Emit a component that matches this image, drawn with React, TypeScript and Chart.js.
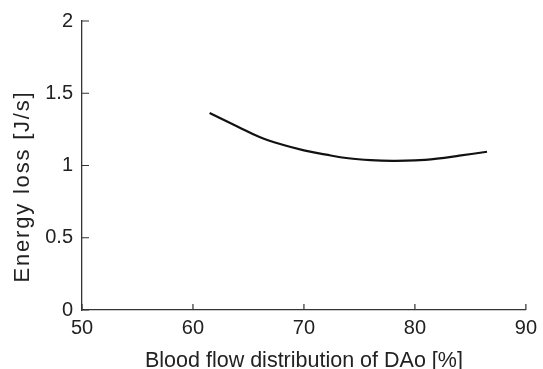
import React, { useEffect, useRef } from "react";
import { Chart, registerables } from "chart.js";

Chart.register(...registerables);

const flowPct = [61.5, 64, 66, 68, 70, 72, 74, 76, 78, 80, 82, 84, 86.5];
const energyLoss = [1.363, 1.27, 1.197, 1.145, 1.105, 1.075, 1.05, 1.037, 1.032, 1.035, 1.048, 1.068, 1.095];
const xTicks = [50, 60, 70, 80, 90];
const yTicks = [0, 0.5, 1, 1.5, 2];
const xTitle = "Blood flow distribution of DAo [%]";
const yTitle = "Energy loss [J/s]";

const FAMILY = "'Liberation Sans', Arial, sans-serif";

const decorations = {
  id: "decorations",
  afterDraw(chart: any) {
    const { ctx, scales, chartArea } = chart;
    ctx.save();
    ctx.strokeStyle = "#333";
    ctx.lineWidth = 1.2;
    ctx.beginPath();
    xTicks.forEach((v) => {
      const px = scales.x.getPixelForValue(v);
      ctx.moveTo(px, chartArea.bottom);
      ctx.lineTo(px, chartArea.bottom - 6);
    });
    yTicks.forEach((v) => {
      const py = scales.y.getPixelForValue(v);
      ctx.moveTo(chartArea.left, py);
      ctx.lineTo(chartArea.left + 7, py);
    });
    ctx.stroke();

    ctx.fillStyle = "#222";
    ctx.textAlign = "center";
    ctx.textBaseline = "alphabetic";
    ctx.font = `21.5px ${FAMILY}`;
    ctx.fillText(xTitle, (chartArea.left + chartArea.right) / 2, 367);

    ctx.translate(29, (chartArea.top + chartArea.bottom) / 2 + 21);
    ctx.rotate(-Math.PI / 2);
    ctx.font = `22px ${FAMILY}`;
    try {
      (ctx as any).letterSpacing = "1.8px";
    } catch (e) {}
    ctx.fillText(yTitle, 0, 0);
    ctx.restore();
  },
};

export default function App() {
  const ref = useRef<HTMLCanvasElement>(null);
  useEffect(() => {
    document.body.style.margin = "0";
    const font = { family: FAMILY, size: 20 };
    const chart = new Chart(ref.current!, {
      type: "line",
      data: {
        datasets: [
          {
            data: flowPct.map((x, i) => ({ x, y: energyLoss[i] })),
            borderColor: "#111",
            borderWidth: 2.2,
            pointRadius: 0,
            tension: 0.4,
            fill: false,
          },
        ],
      },
      options: {
        animation: false,
        responsive: false,
        maintainAspectRatio: false,
        layout: { padding: { top: 21, right: 13, left: 0, bottom: 0 } },
        plugins: { legend: { display: false }, tooltip: { enabled: false } },
        scales: {
          x: {
            type: "linear",
            min: 50,
            max: 90,
            afterBuildTicks: (s: any) => {
              s.ticks = xTicks.map((v) => ({ value: v }));
            },
            afterFit: (s: any) => {
              s.height = 59;
            },
            grid: { display: false, drawTicks: false },
            border: { display: true, color: "#333", width: 1.3 },
            ticks: { color: "#222", font, padding: 6, maxRotation: 0, callback: (v: any) => String(v) },
          },
          y: {
            type: "linear",
            min: 0,
            max: 2,
            afterBuildTicks: (s: any) => {
              s.ticks = yTicks.map((v) => ({ value: v }));
            },
            afterFit: (s: any) => {
              s.width = 82;
            },
            grid: { display: false, drawTicks: false },
            border: { display: true, color: "#333", width: 1.3 },
            ticks: { color: "#222", font, padding: 9, callback: (v: any) => String(v) },
          },
        },
      },
      plugins: [decorations],
    } as any);
    return () => chart.destroy();
  }, []);
  return (
    <div style={{ position: "fixed", left: 0, top: 0, width: 543, height: 369, background: "#fff" }}>
      <canvas ref={ref} width={543} height={369} style={{ width: 543, height: 369 }} />
    </div>
  );
}
